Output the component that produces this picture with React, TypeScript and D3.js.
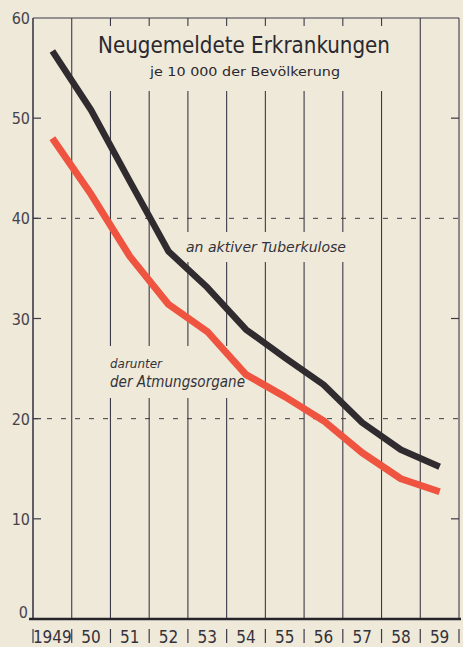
import React, { useRef, useEffect } from 'react';
import * as d3 from 'd3';

const years = ['1949', '50', '51', '52', '53', '54', '55', '56', '57', '58', '59'];
const tuberkulose = [56.7, 50.8, 43.7, 36.7, 33.1, 28.9, 26.1, 23.4, 19.6, 16.9, 15.2];
const atmungsorgane = [48.0, 42.4, 36.2, 31.4, 28.7, 24.4, 22.2, 19.8, 16.6, 14.0, 12.7];
const yTicks = [0, 10, 20, 30, 40, 50, 60];

const W = 463;
const H = 647;
const BG = '#efe9d9';
const GRID = '#3c3a48';
const FONT = '"DejaVu Sans Condensed", "DejaVu Sans", sans-serif';

const App: React.FC = () => {
  const svgRef = useRef<SVGSVGElement>(null);

  useEffect(() => {
    document.body.style.margin = '0';
    if (!svgRef.current) return;
    const svg = d3.select(svgRef.current);
    svg.selectAll('*').remove();

    const x = d3.scaleBand().domain(years).range([33, 459]);
    const y = d3.scaleLinear().domain([0, 60]).range([619, 18]);
    const left = 33, right = 459;

    svg.append('rect').attr('width', W).attr('height', H).attr('fill', BG);

    // vertical grid lines at band boundaries
    const bounds = years.map(d => x(d)!).concat([right]);
    svg.selectAll('line.v')
      .data(bounds)
      .enter()
      .append('line')
      .attr('class', 'v')
      .attr('x1', d => d)
      .attr('x2', d => d)
      .attr('y1', y(60))
      .attr('y2', y(0))
      .attr('stroke', GRID)
      .attr('stroke-width', (d, i) => (i === 0 ? 1.6 : 1.1));

    // top frame
    svg.append('line')
      .attr('x1', left).attr('x2', right)
      .attr('y1', y(60)).attr('y2', y(60))
      .attr('stroke', GRID).attr('stroke-width', 1.2);

    // dashed lines at 20 and 40
    svg.selectAll('line.dash')
      .data([20, 40])
      .enter()
      .append('line')
      .attr('x1', left).attr('x2', right)
      .attr('y1', d => y(d)).attr('y2', d => y(d))
      .attr('stroke', GRID).attr('stroke-width', 1)
      .attr('stroke-dasharray', '5,9');

    // gaps behind texts
    const gaps = [
      [90, 26, 306, 65],
      [181, 232, 170, 30],
      [104, 346, 148, 52],
    ];
    svg.selectAll('rect.gap')
      .data(gaps)
      .enter()
      .append('rect')
      .attr('x', d => d[0]).attr('y', d => d[1])
      .attr('width', d => d[2]).attr('height', d => d[3])
      .attr('fill', BG);

    // ticks left and right
    svg.selectAll('line.lt')
      .data(yTicks.filter(t => t > 0 && t < 60))
      .enter()
      .append('line')
      .attr('x1', left).attr('x2', left + 8)
      .attr('y1', d => y(d)).attr('y2', d => y(d))
      .attr('stroke', GRID).attr('stroke-width', 1.2);
    svg.selectAll('line.rt')
      .data([10, 30, 50])
      .enter()
      .append('line')
      .attr('x1', right - 8).attr('x2', right)
      .attr('y1', d => y(d)).attr('y2', d => y(d))
      .attr('stroke', GRID).attr('stroke-width', 1.2);

    // y labels
    svg.selectAll('text.yl')
      .data(yTicks)
      .enter()
      .append('text')
      .attr('x', d => (d === 0 ? 28 : 30))
      .attr('y', d => (d === 0 ? y(d) - 1 : y(d) + 6))
      .attr('text-anchor', 'end')
      .attr('font-family', FONT)
      .attr('font-size', 16)
      .attr('fill', '#45434c')
      .text(d => d);

    // baseline
    svg.append('line')
      .attr('x1', 29).attr('x2', right + 2)
      .attr('y1', y(0)).attr('y2', y(0))
      .attr('stroke', '#26242a').attr('stroke-width', 2.6);

    // year separators & labels
    svg.selectAll('line.sep')
      .data(bounds)
      .enter()
      .append('line')
      .attr('x1', d => d).attr('x2', d => d)
      .attr('y1', 629).attr('y2', 643)
      .attr('stroke', GRID).attr('stroke-width', 1.2);
    svg.selectAll('text.yr')
      .data(years)
      .enter()
      .append('text')
      .attr('x', d => x(d)! + x.bandwidth() / 2)
      .attr('y', 643)
      .attr('text-anchor', 'middle')
      .attr('font-family', FONT)
      .attr('font-size', 17)
      .attr('fill', '#34323a')
      .text(d => d);

    // data lines
    const line = d3.line<number>()
      .x((d, i) => x(years[i])! + x.bandwidth() / 2)
      .y(d => y(d))
      .curve(d3.curveLinear);

    svg.append('path')
      .attr('d', line(atmungsorgane))
      .attr('fill', 'none')
      .attr('stroke', '#ef5441')
      .attr('stroke-width', 7)
      .attr('stroke-linejoin', 'round');
    svg.append('path')
      .attr('d', line(tuberkulose))
      .attr('fill', 'none')
      .attr('stroke', '#2f2b2e')
      .attr('stroke-width', 6.5)
      .attr('stroke-linejoin', 'round');

    // titles
    svg.append('text')
      .attr('x', 244).attr('y', 53)
      .attr('text-anchor', 'middle')
      .attr('font-family', FONT)
      .attr('font-size', 23)
      .attr('fill', '#2a282e')
      .attr('textLength', 292)
      .attr('lengthAdjust', 'spacingAndGlyphs')
      .text('Neugemeldete  Erkrankungen');
    svg.append('text')
      .attr('x', 245).attr('y', 76)
      .attr('text-anchor', 'middle')
      .attr('font-family', FONT)
      .attr('font-size', 13)
      .attr('fill', '#2a282e')
      .attr('textLength', 190)
      .attr('lengthAdjust', 'spacingAndGlyphs')
      .text('je  10 000  der Bevölkerung');

    // series labels
    svg.append('text')
      .attr('x', 186).attr('y', 252)
      .attr('font-family', FONT)
      .attr('font-size', 14)
      .attr('font-style', 'italic')
      .attr('fill', '#34323a')
      .attr('textLength', 160)
      .attr('lengthAdjust', 'spacingAndGlyphs')
      .text('an aktiver  Tuberkulose');
    svg.append('text')
      .attr('x', 110).attr('y', 368)
      .attr('font-family', FONT)
      .attr('font-size', 12)
      .attr('font-style', 'italic')
      .attr('fill', '#34323a')
      .attr('textLength', 52)
      .attr('lengthAdjust', 'spacingAndGlyphs')
      .text('darunter');
    svg.append('text')
      .attr('x', 110).attr('y', 387)
      .attr('font-family', FONT)
      .attr('font-size', 15)
      .attr('font-style', 'italic')
      .attr('fill', '#34323a')
      .attr('textLength', 135)
      .attr('lengthAdjust', 'spacingAndGlyphs')
      .text('der Atmungsorgane');
  }, []);

  return <svg ref={svgRef} width={W} height={H} style={{ display: 'block' }} />;
};

export default App;
